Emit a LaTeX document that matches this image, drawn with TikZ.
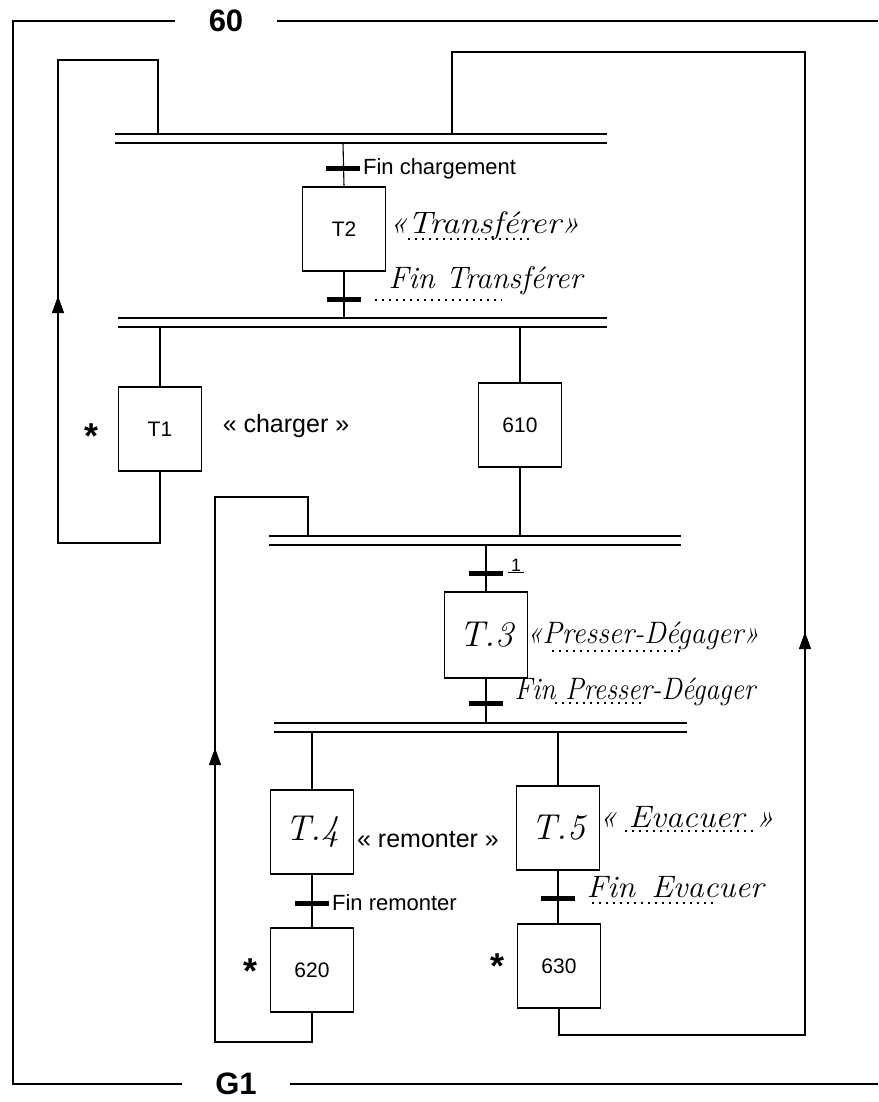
\documentclass[tikz,border=0pt]{standalone}
\usepackage{fontspec}
\newfontfamily\arialfont{Liberation Sans}
\usetikzlibrary{arrows.meta,positioning}

\begin{document}
\begin{tikzpicture}[x=1pt, y=-1pt, line width=1.1pt,
        stepbox/.style={rectangle, draw, minimum width=83pt, minimum height=84pt, inner sep=0pt, font=\arialfont\fontsize{21}{23}\selectfont},
        handbox/.style={stepbox, font=\itshape\fontsize{36}{38}\selectfont},
        trans/.style={rectangle, fill=black, minimum width=34pt, minimum height=5pt, inner sep=0pt},
        printtxt/.style={font=\arialfont\fontsize{22}{24}\selectfont, inner sep=1pt},
        quotetxt/.style={font=\arialfont\fontsize{25}{27}\selectfont, inner sep=0pt},
        handtxt/.style={font=\itshape\fontsize{31}{33}\selectfont, inner sep=0pt, anchor=base west},
        titletxt/.style={font=\arialfont\bfseries\fontsize{31}{33}\selectfont, inner xsep=33pt, inner ysep=0pt},
        starmark/.style={font=\arialfont\bfseries\fontsize{36}{36}\selectfont, inner sep=0pt, anchor=base},
        dblbar/.style={line width=1.4pt},
        dots/.style={line width=1.5pt, dash pattern=on 1.5pt off 5.5pt},
        upflow/.style={-{Triangle[length=17pt, width=12pt]}}]

    \useasboundingbox (0,0) rectangle (878,1102);

    % macro-step frame
    \node[titletxt] (n60) at (226,21) {60};
    \node[titletxt] (nG1) at (236,1084) {G1};
    \coordinate (cTL) at (13,21);
    \coordinate (cBL) at (13,1084);
    \coordinate (cTR) at (878,21);
    \coordinate (cBR) at (878,1084);
    \draw (n60.west) -- (cTL) -- (cBL) -- (nG1.west);
    \draw (n60.east) -- (cTR);
    \draw (nG1.east) -- (cBR);

    % double bars
    \coordinate (A1) at (115,134); \coordinate (A2) at (607,134);
    \coordinate (A3) at (115,143); \coordinate (A4) at (607,143);
    \coordinate (B1) at (118,318); \coordinate (B2) at (607,318);
    \coordinate (B3) at (118,327); \coordinate (B4) at (607,327);
    \coordinate (C1) at (269,536); \coordinate (C2) at (681,536);
    \coordinate (C3) at (269,545); \coordinate (C4) at (681,545);
    \coordinate (D1) at (274,723); \coordinate (D2) at (687,723);
    \coordinate (D3) at (274,732); \coordinate (D4) at (687,732);
    \draw[dblbar] (A1) -- (A2) (A3) -- (A4);
    \draw[dblbar] (B1) -- (B2) (B3) -- (B4);
    \draw[dblbar] (C1) -- (C2) (C3) -- (C4);
    \draw[dblbar] (D1) -- (D2) (D3) -- (D4);

    % steps
    \node[stepbox] (T2) at (344,229) {T2};
    \node[stepbox] (T1) at (160,429) {T1};
    \node[stepbox] (s610) at (520,425) {610};
    \node[handbox, minimum height=86pt] (T3) at (486,635) {T.3};
    \node[handbox] (T4) at (312,832) {T.4};
    \node[handbox] (T5) at (558,828) {T.5};
    \node[stepbox] (s620) at (312,970) {620};
    \node[stepbox] (s630) at (559,966) {630};

    % transitions
    \node[trans] (tA) at (343,169) {};
    \node[trans] (tB) at (344,299) {};
    \node[trans] (tC) at (486,573) {};
    \node[trans] (tD) at (486,703) {};
    \node[trans] (tE) at (312,903) {};
    \node[trans] (tF) at (558,898) {};

    % links
    \draw (tA |- A3) -- (T2.north);
    \draw (T2.south) -- (T2.south |- B1);
    \draw (T1.north |- B3) -- (T1.north);
    \draw (s610.north |- B3) -- (s610.north);
    \draw (s610.south) -- (s610.south |- C1);
    \draw (T3.north |- C3) -- (T3.north);
    \draw (T3.south) -- (T3.south |- D1);
    \draw (T4.north |- D3) -- (T4.north);
    \draw (T5.north |- D3) -- (T5.north);
    \draw (T4.south) -- (s620.north);
    \draw (T5.south) -- (T5.south |- s630.north);

    % loops back
    \coordinate (gA) at (58,543);
    \coordinate (gB) at (158,60);
    \draw (T1.south) |- (gA) |- (gB) -- (gB |- A1);
    \coordinate (gE) at (215,1042);
    \coordinate (gF) at (308,497);
    \draw (s620.south) |- (gE) |- (gF) -- (gF |- C1);
    \coordinate (gC) at (805,1035);
    \coordinate (gD) at (452,52);
    \draw (s630.south) |- (gC) |- (gD) -- (gD |- A1);

    \coordinate (hA) at (58,296);
    \coordinate (hE) at (215,748);
    \coordinate (hC) at (805,632);
    \draw[upflow] (hA) ++(0,25) -- (hA);
    \draw[upflow] (hE) ++(0,25) -- (hE);
    \draw[upflow] (hC) ++(0,25) -- (hC);

    % receptivities and actions
    \node[printtxt, right=1pt of tA] {Fin chargement};
    \node[printtxt, right=1pt of tE] {Fin remonter};
    \node[printtxt, font=\arialfont\fontsize{18}{20}\selectfont, anchor=base] (r1) at (516,571) {\underline{\hspace{3pt}1\hspace{3pt}}};
    \node[quotetxt] (aT1) at (286,426) {« charger »};
    \node[quotetxt] (aT4) at (428,840) {« remonter »};

    \node[handtxt] (aT2) at (388,233) {\scalebox{1.12}[1]{«Transférer»}};
    \draw[dots] (408,239) -- (533,239);
    \node[handtxt] (rT2) at (388,288) {\scalebox{1.0}[1]{Fin Transférer}};
    \draw[dots] (375,300) -- (502,300);
    \node[handtxt] (aT3) at (526,643) {\scalebox{0.94}[1]{«Presser-Dégager»}};
    \draw[dots] (552,651) -- (680,651);
    \node[handtxt] (rT3) at (514,699) {\scalebox{0.89}[1]{Fin Presser-Dégager}};
    \draw[dots] (555,703) -- (645,703);
    \node[handtxt] (aT5) at (598,827) {\scalebox{1.08}[1]{« Evacuer »}};
    \draw[dots] (625,831) -- (753,831);
    \node[handtxt] (rT5) at (586,897) {\scalebox{1.05}[1]{Fin\enspace Evacuer}};
    \draw[dots] (592,903) -- (718,903);

    % initial-state marks
    \node[starmark] (k1) at (92,448) {*};
    \node[starmark] (k2) at (251,983) {*};
    \node[starmark] (k3) at (497,978) {*};

\end{tikzpicture}
\end{document}
